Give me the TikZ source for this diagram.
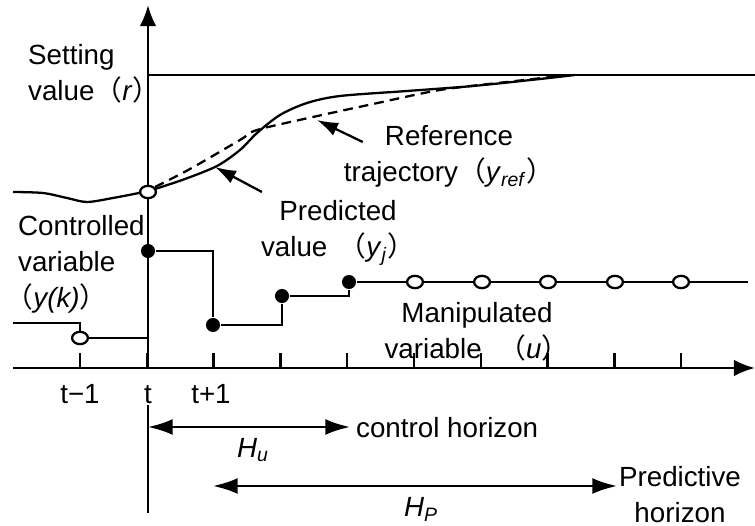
\documentclass[tikz,border=0pt]{standalone}
\usepackage{fontspec}
\setmainfont{Liberation Sans}
\setsansfont{Liberation Sans}
\newfontfamily\cjk{Noto Sans CJK JP}
\usetikzlibrary{arrows.meta, shapes.geometric}

\newcommand\fwlp{{\cjk （}}
\newcommand\fwrp{{\cjk ）}\hspace{-.45em}}
\newcommand\var[1]{\textit{#1}}

\begin{document}
\begin{tikzpicture}[x=0.02cm, y=-0.02cm, line width=1.3pt,
    font=\sffamily\fontsize{15.8}{20.5}\selectfont,
    lbl/.style={inner sep=0pt},
    axis/.style={line width=1.5pt, -{Latex[length=12pt, width=9.5pt]}},
    pointer/.style={line width=1.3pt, -{Latex[length=12pt, width=8pt]}},
    horizon/.style={line width=1.3pt, {Latex[length=14pt, width=9pt]}-{Latex[length=14pt, width=9pt]}},
    dot/.style={circle, fill=black, inner sep=0pt, minimum size=8pt},
    hollow/.style={ellipse, draw, fill=white, inner sep=0pt, line width=1.3pt, minimum width=9pt, minimum height=7pt}]

    \useasboundingbox (0,0) rectangle (755,526);

    \coordinate (org) at (148,368);
    \coordinate (ytop) at (148,5);
    \coordinate (ybot) at (148,513);
    \coordinate (xl) at (13,368);
    \coordinate (xr) at (755,368);

    \draw[axis] (org) -- (ytop);
    \draw[axis] (xl) -- (xr);

    \foreach \k in {0,...,9}
        \draw ({80+66.8*\k},368) -- ++(0,-15);

    \node[lbl, anchor=base] (tm) at (80,404) {t−1};
    \node[lbl, anchor=base] (t0) at (148,404) {t};
    \node[lbl, anchor=base] (tp) at (211,404) {t+1};
    \draw[line width=1.5pt] (t0.south) -- (ybot);

    % setting value
    \coordinate (r0) at (148,75);
    \coordinate (r1) at (755,75);
    \draw (r0) -- (r1);
    \node[lbl, anchor=north west, align=left] (setv) at (27,43) {Setting\\value\fwlp\var{r}\fwrp};

    % controlled variable, predicted value, reference trajectory
    \node[hollow] (y0) at (148,192) {};
    \draw plot[smooth] coordinates {(13,192) (43,193) (67,198) (87,202) (113,198) (139,193)};
    \draw plot[smooth] coordinates {(155,189) (185,179) (217,166) (240,150) (257,133) (280,115) (307,103) (340,96) (407,91) (473,86) (540,79) (575,75)};
    \draw[dash pattern=on 5.5pt off 3.5pt] plot[smooth] coordinates {(155,187) (190,169) (240,140) (257,130) (313,117) (373,104) (440,90) (507,82) (560,76)};

    \node[lbl, anchor=north west, align=left] (ctrl) at (17,214) {Controlled\\variable\\\hspace*{-.45em}\fwlp\var{y(k)}\fwrp};

    \node[lbl, anchor=north, align=center] (refl) at (449,124) {Reference\\trajectory\fwlp\var{y}\textsubscript{\var{ref}}\fwrp};
    \coordinate (refpt) at (317,120);
    \draw[pointer] ([shift={(20,18)}]refl.north west) -- (refpt);

    \node[lbl, anchor=north, align=center] (predl) at (338,199) {Predicted\\value\hspace{.4em}\fwlp\var{y}\textsubscript{\var{j}}\fwrp};
    \coordinate (predpt) at (215,167);
    \draw[pointer] ([shift={(2,-7)}]predl.north west) -- (predpt);

    % manipulated variable
    \coordinate (ustart) at (13,323);
    \node[hollow] (uprev) at (80,338) {};
    \draw (ustart) -| (uprev);
    \draw (uprev) -- (uprev -| org);
    \node[dot] (u1) at (148,251) {};
    \node[dot] (u2) at (213,325) {};
    \node[dot] (u3) at (282,296) {};
    \node[dot] (u4) at (349,282) {};
    \draw (u1) -| (u2);
    \draw (u2) -| (u3);
    \draw (u3) -| (u4);
    \foreach \k [count=\n] in {415,482,548,615,681}
        \node[hollow] (f\n) at (\k,282) {};
    \coordinate (uend) at (748,282);
    \draw (u4) -- (f1) -- (f2) -- (f3) -- (f4) -- (f5) -- (uend);

    \node[lbl, anchor=north, align=center] (manl) at (477,301) {Manipulated\\variable\hspace{.6em}\fwlp\var{u}\fwrp};

    % horizons
    \coordinate (hu0) at (148,427);
    \coordinate (hu1) at (350,427);
    \draw[horizon] (hu0) -- (hu1);
    \node[lbl, anchor=base west] (cth) at (355,438) {control horizon};
    \node[lbl, anchor=base west] (hul) at (236,458) {\var{H}\textsubscript{\var{u}}};

    \coordinate (hp0) at (213,486);
    \coordinate (hp1) at (617,486);
    \draw[horizon] (hp0) -- (hp1);
    \node[lbl, anchor=north, align=center] (prh) at (680,465) {Predictive\\horizon};
    \node[lbl, anchor=base west] (hpl) at (403,517) {\var{H}\textsubscript{\var{P}}};

\end{tikzpicture}
\end{document}
